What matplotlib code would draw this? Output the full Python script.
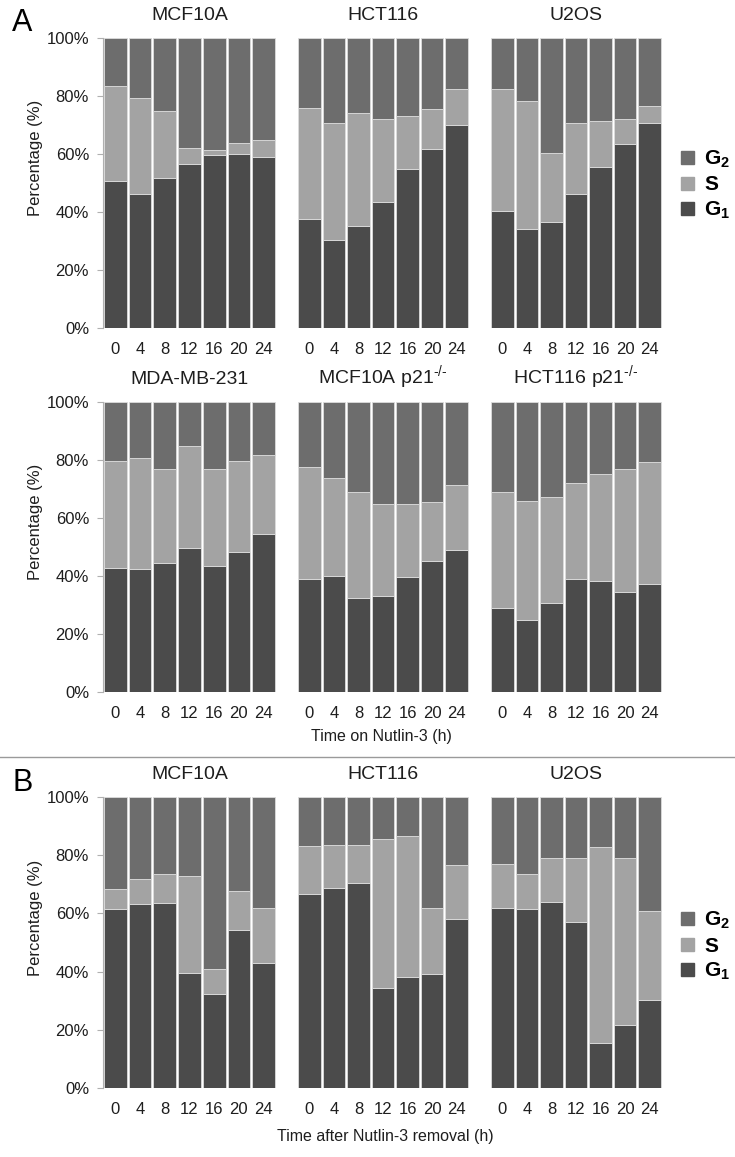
"""Cell-cycle distribution after Nutlin-3 treatment and removal."""
import matplotlib
matplotlib.use("Agg")
import matplotlib.pyplot as plt
from matplotlib.lines import Line2D
from matplotlib.patches import Patch
import numpy as np

plt.rcParams["font.family"] = ["Liberation Sans", "DejaVu Sans"]
plt.rcParams["mathtext.fontset"] = "custom"
plt.rcParams["mathtext.rm"] = "Liberation Sans"
plt.rcParams["mathtext.bf"] = "Liberation Sans:bold"

hours = [0, 4, 8, 12, 16, 20, 24]

# panel A, top row: G1 and cumulative G1+S (%)
mcf10a_g1 = [50.7, 46.3, 51.7, 56.7, 59.7, 60.0, 59.0]
mcf10a_gs = [83.6, 79.4, 74.8, 61.9, 61.4, 63.7, 64.7]
hct116_g1 = [37.6, 30.5, 35.1, 43.4, 54.8, 61.7, 70.0]
hct116_gs = [75.8, 70.7, 74.2, 72.1, 73.1, 75.4, 82.4]
u2os_g1 = [40.3, 34.3, 36.6, 46.2, 55.5, 63.6, 70.6]
u2os_gs = [82.4, 78.3, 60.2, 70.7, 71.5, 72.2, 76.4]

# panel A, bottom row
mda_g1 = [42.9, 42.4, 44.5, 49.7, 43.4, 48.3, 54.6]
mda_gs = [79.8, 80.6, 76.9, 84.9, 76.9, 79.8, 81.7]
mcf_p21_g1 = [39.0, 40.0, 32.5, 33.0, 39.8, 45.3, 48.9]
mcf_p21_gs = [77.5, 73.8, 68.9, 64.9, 64.9, 65.4, 71.3]
hct_p21_g1 = [29.1, 24.7, 30.7, 39.0, 38.3, 34.6, 37.2]
hct_p21_gs = [69.1, 65.7, 67.1, 72.2, 75.3, 76.9, 79.2]

# panel B: after removal
mcf10a_b_g1 = [61.4, 63.3, 63.7, 39.4, 32.3, 54.2, 43.1]
mcf10a_b_gs = [68.4, 71.7, 73.6, 72.9, 40.9, 67.6, 61.7]
hct116_b_g1 = [66.6, 68.9, 70.4, 34.4, 38.0, 39.3, 58.2]
hct116_b_gs = [83.1, 83.4, 83.4, 85.6, 86.5, 61.7, 76.5]
u2os_b_g1 = [61.7, 61.4, 63.8, 57.2, 15.5, 21.8, 30.3]
u2os_b_gs = [77.0, 73.4, 78.9, 79.2, 82.7, 79.2, 60.8]

C_G1, C_S, C_G2 = "#4b4b4b", "#a3a3a3", "#6d6d6d"
TXT = "#1e1e1e"

W, H = 735, 1157
fig = plt.figure(figsize=(W / 100, H / 100), dpi=100)


def box(x0, y0, x1, y1):
    # pixel box -> figure fraction [left, bottom, width, height]
    return [x0 / W, 1 - y1 / H, (x1 - x0) / W, (y1 - y0) / H]


def draw(rect, title, g1, gs, first):
    ax = fig.add_axes(rect)
    x = np.arange(len(hours))
    g1 = np.array(g1)
    gs = np.array(gs)
    kw = dict(width=0.92, edgecolor="#dcdcdc", linewidth=0.6)
    ax.bar(x, g1, color=C_G1, **kw)
    ax.bar(x, gs - g1, bottom=g1, color=C_S, **kw)
    ax.bar(x, 100 - gs, bottom=gs, color=C_G2, **kw)
    ax.set_xlim(-0.5, len(hours) - 0.5)
    ax.set_ylim(0, 100)
    ax.set_title(title, fontsize=14, pad=13, color=TXT)
    ax.set_xticks(x)
    ax.set_xticklabels([str(h) for h in hours], fontsize=12, color=TXT)
    ax.tick_params(axis="x", length=0, pad=10)
    for s in ["top", "right", "bottom"]:
        ax.spines[s].set_visible(False)
    if first:
        ax.spines["left"].set_color("#b0b0b0")
        ax.spines["left"].set_linewidth(0.8)
        ax.set_yticks([0, 20, 40, 60, 80, 100])
        ax.set_yticklabels([f"{v}%" for v in range(0, 101, 20)],
                           fontsize=12, color=TXT)
        ax.tick_params(axis="y", length=4, color="#b0b0b0", pad=6)
        ax.set_ylabel("Percentage (%)", fontsize=12, color=TXT)
        # label sits a little above the axis centre in the original
        ax.yaxis.set_label_coords(-0.345, 0.585)
    else:
        ax.spines["left"].set_visible(False)
        ax.set_yticks([])
    return ax


cols = [(103, 276), (297, 469), (490, 662)]
rows = [(38, 328), (402, 692), (797, 1088)]

sup = r"$^{\text{-/-}}$"
panels = [
    [("MCF10A", mcf10a_g1, mcf10a_gs), ("HCT116", hct116_g1, hct116_gs),
     ("U2OS", u2os_g1, u2os_gs)],
    [("MDA-MB-231", mda_g1, mda_gs), ("MCF10A p21" + sup, mcf_p21_g1, mcf_p21_gs),
     ("HCT116 p21" + sup, hct_p21_g1, hct_p21_gs)],
    [("MCF10A", mcf10a_b_g1, mcf10a_b_gs), ("HCT116", hct116_b_g1, hct116_b_gs),
     ("U2OS", u2os_b_g1, u2os_b_gs)],
]

for r, (y0, y1) in enumerate(rows):
    for c, (x0, x1) in enumerate(cols):
        title, g1, gs = panels[r][c]
        draw(box(x0, y0, x1, y1), title, g1, gs, c == 0)

fig.text(381 / W, 1 - 737 / H, "Time on Nutlin-3 (h)", ha="center", va="center",
         fontsize=11.5, color=TXT)
fig.text(385 / W, 1 - 1137 / H, "Time after Nutlin-3 removal (h)", ha="center",
         va="center", fontsize=11.5, color=TXT)

fig.text(12 / W, 1 - 23 / H, "A", fontsize=22, va="center", ha="left", color="black")
fig.text(12 / W, 1 - 783 / H, "B", fontsize=22, va="center", ha="left", color="black")

fig.add_artist(Line2D([0, 1], [1 - 757 / H] * 2, color="#9a9a9a", linewidth=1.0))

handles = [Patch(color=C_G2), Patch(color=C_S), Patch(color=C_G1)]
labels = [r"$\mathbf{G_2}$", r"$\mathbf{S}$", r"$\mathbf{G_1}$"]
for yc in (185, 946):
    fig.legend(handles, labels, loc="center left",
               bbox_to_anchor=(681 / W, 1 - yc / H), frameon=False,
               borderpad=0, borderaxespad=0,
               fontsize=15, handlelength=0.6, handleheight=0.6,
               handletextpad=0.5, labelspacing=0.25)

fig.savefig("out.png", dpi=100)
